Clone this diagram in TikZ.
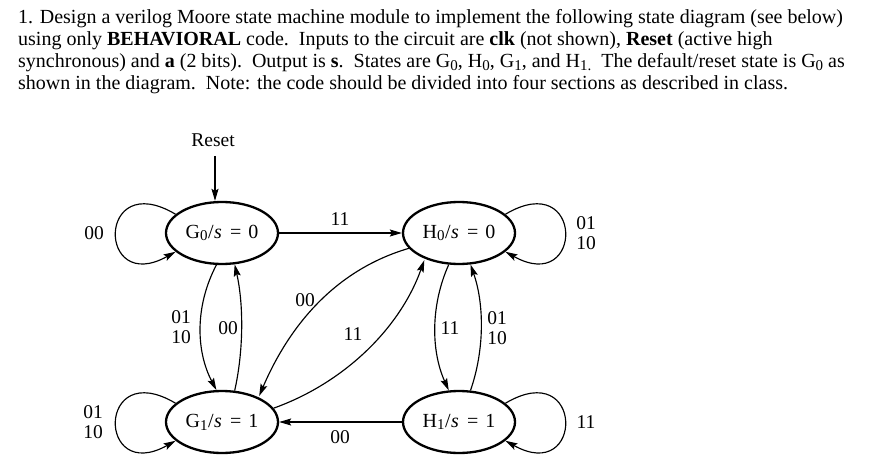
\documentclass[tikz,border=0pt]{standalone}
\usepackage{fontspec}
\setmainfont{Liberation Serif}
\usetikzlibrary{arrows.meta,shapes.geometric}
\newcommand{\lowidx}[1]{\raisebox{-0.3ex}{\scalebox{0.75}{#1}}}
\newcommand{\stlbl}[3]{#1\lowidx{#2}\kern0.5pt/\kern0.5pt\textit{s}\hspace{0.4em}=\hspace{0.35em}#3}
\begin{document}
\begin{tikzpicture}[x=1pt,y=-1pt,
 state/.style={ellipse,draw,line width=2.3pt,minimum width=112pt,minimum height=62pt,inner sep=0pt,font=\fontsize{20}{20}\selectfont},
 lbl/.style={font=\fontsize{19.5}{20}\selectfont,align=center,inner sep=0pt},
 txt/.style={anchor=base west,inner sep=0pt,font=\fontsize{20}{22}\selectfont},
 arr/.style={line width=1.15pt,-{Stealth[length=12pt,width=7pt,inset=2pt]}}]
\path[use as bounding box,fill=white] (0,0) rectangle (890,462);
% question text
\node[txt] (t1) at (18,24) {1. Design a verilog Moore state machine module to implement the following state diagram (see below)};
\node[txt] (t2) at (18,46) {using only \textbf{BEHAVIORAL} code.\ \ Inputs to the circuit are \textbf{clk} (not shown), \textbf{Reset} (active high};
\node[txt] (t3) at (18,68) {synchronous) and \textbf{a} (2 bits).\ \ Output is \textbf{s}.\ \ States are G\lowidx{0}, H\lowidx{0}, G\lowidx{1}, and H\lowidx{1.}\ \ The default/reset state is G\lowidx{0} as};
\node[txt] (t4) at (18,90) {shown in the diagram.\ \ Note: the code should be divided into four sections as described in class.};
% states
\node[state] (G0) at (222,233) {\stlbl{G}{0}{0}};
\node[state] (H0) at (459,233) {\stlbl{H}{0}{0}};
\node[state] (G1) at (222,422) {\stlbl{G}{1}{1}};
\node[state] (H1) at (459,422) {\stlbl{H}{1}{1}};
% reset
\node[lbl] (reset) at (213,140) {Reset};
\coordinate (rtop) at (215,156);
\draw[arr] (rtop) -- (rtop |- G0.north);
% self loops
\draw[arr] (G0.158) .. controls +(-79,-47) and +(-79,44) .. (G0.202);
\draw[arr] (G1.158) .. controls +(-79,-47) and +(-79,44) .. (G1.202);
\draw[arr] (H0.22) .. controls +(79,-47) and +(79,44) .. (H0.-22);
\draw[arr] (H1.22) .. controls +(79,-47) and +(79,44) .. (H1.-22);
\node[lbl] (lG0) at (94,233) {00};
\node[lbl] (lH0) at (586,233) {01\\10};
\node[lbl] (lG1) at (93,422) {01\\10};
\node[lbl] (lH1) at (586,422) {11};
% straight
\draw[arr] (G0.east) -- (H0.west);
\draw[arr] (H1.west) -- (G1.east);
\node[lbl] (l11a) at (340,219) {11};
\node[lbl] (l00b) at (340,437) {00};
% vertical curves
\draw[arr] (G0.-100) .. controls +(-21,40) and +(-21,-40) .. (G1.100);
\draw[arr] (G1.68) .. controls +(9,-40) and +(9,40) .. (G0.-68);
\draw[arr] (H0.-108) .. controls +(-18,40) and +(-18,-40) .. (H1.108);
\draw[arr] (H1.70) .. controls +(14,-40) and +(14,40) .. (H0.-70);
\node[lbl] (lgg1) at (181,327) {01\\10};
\node[lbl] (lgg2) at (228,328) {00};
\node[lbl] (lhh1) at (450,328) {11};
\node[lbl] (lhh2) at (497,328) {01\\10};
% diagonals
\draw[arr,shorten >=1.5pt] (H0.197) .. controls +(-75,22) and +(30,-70) .. (G1.34);
\draw[arr,shorten >=1.5pt] (G1.15) .. controls +(70,-25) and +(-25,70) .. (H0.-143);
\node[lbl] (ld1) at (305,300) {00};
\node[lbl] (ld2) at (353,334) {11};
\end{tikzpicture}
\end{document}
